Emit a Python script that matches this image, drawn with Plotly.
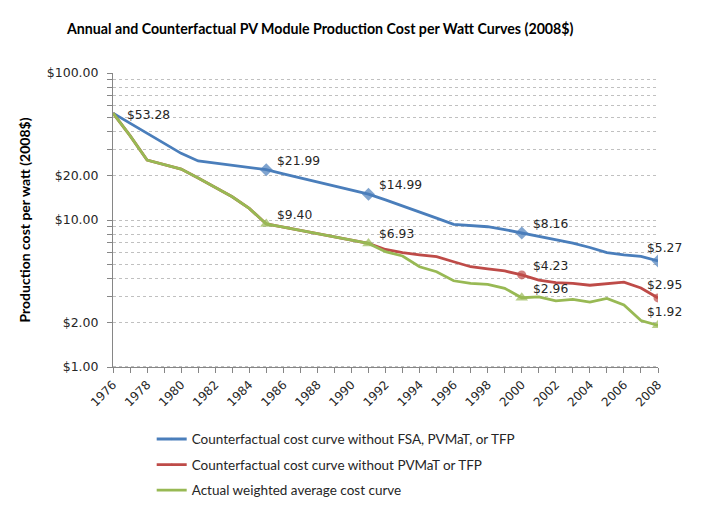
import numpy as np
import plotly.graph_objects as go

years = list(range(1976, 2009))

blue_vals = [53.28, 45.5, 38.9, 33.3, 28.4, 25.2, 24.4, 23.5, 22.7, 21.99,
             20.63, 19.35, 18.15, 17.03, 15.98, 14.99, 13.7, 12.5, 11.4, 10.3,
             9.35, 9.15, 9.0, 8.6, 8.16, 7.7, 7.3, 6.95, 6.5, 6.0,
             5.8, 5.65, 5.27]

green_vals = [53.28, 37.5, 25.6, 23.9, 22.2, 19.3, 16.7, 14.4, 12.0, 9.40,
              8.93, 8.49, 8.07, 7.67, 7.29, 6.93, 6.09, 5.69, 4.81, 4.45,
              3.86, 3.71, 3.65, 3.43, 2.96, 3.0, 2.82, 2.88, 2.76, 2.93,
              2.64, 2.07, 1.92]

red_vals = [53.28, 37.5, 25.6, 23.9, 22.2, 19.3, 16.7, 14.4, 12.0, 9.40,
            8.93, 8.49, 8.07, 7.67, 7.29, 6.93, 6.3, 6.0, 5.8, 5.63,
            5.2, 4.81, 4.65, 4.5, 4.23, 3.9, 3.75, 3.7, 3.6, 3.7,
            3.78, 3.45, 2.95]

blue_name = "Counterfactual cost curve without FSA, PVMaT, or TFP"
red_name = "Counterfactual cost curve without PVMaT or TFP"
green_name = "Actual weighted average cost curve"

blue_marked = [1985, 1991, 2000, 2008]
red_marked = [2000, 2008]
green_marked = [1985, 1991, 2000, 2008]

blue_labeled = [1976, 1985, 1991, 2000, 2008]
red_labeled = [2000, 2008]
green_labeled = [1985, 1991, 2000, 2008]

ytick_vals = [1, 2, 10, 20, 100]
ytick_text = ["$1.00", "$2.00", "$10.00", "$20.00", "$100.00"]
ygrid_minor = [3, 4, 5, 6, 7, 8, 9, 30, 40, 50, 60, 70, 80, 90]
ygrid_dark = 10

BLUE = "#4A7EBB"
RED = "#BE4B48"
GREEN = "#98B954"
FONT = "Lato"
TICKFONT = "DejaVu Sans"

fig = go.Figure()


def add_series(vals, name, color, marked, symbol, msize):
    sizes = [msize if y in marked else 0 for y in years]
    fig.add_trace(go.Scatter(
        x=years, y=vals, name=name, mode="lines+markers",
        line=dict(color=color, width=2.8),
        marker=dict(symbol=symbol, size=sizes, color=color, line=dict(width=0)),
        legendgroup=name,
    ))


add_series(blue_vals, blue_name, BLUE, blue_marked, "diamond", 10)
add_series(red_vals, red_name, RED, red_marked, "circle", 9)
add_series(green_vals, green_name, GREEN, green_marked, "triangle-up", 11)

annotations = []


def add_labels(vals, labeled):
    for y in labeled:
        v = vals[years.index(y)]
        if y == years[0]:
            xa, xs, ys = "left", 12, -2
        elif y == years[-1]:
            xa, xs, ys = "center", 6, 13
        else:
            xa, xs, ys = "left", 9, 9
        annotations.append(dict(
            x=y, y=np.log10(v), xref="x", yref="y", text="$%.2f" % v,
            showarrow=False, xanchor=xa, yanchor="middle", xshift=xs, yshift=ys,
            font=dict(family=TICKFONT, size=12.3, color="#262626"),
        ))


add_labels(blue_vals, blue_labeled)
add_labels(red_vals, red_labeled)
add_labels(green_vals, green_labeled)

W, H = 696, 514

fig.update_layout(
    width=W, height=H,
    margin=dict(l=105, r=46, t=65, b=155, autoexpand=False),
    paper_bgcolor="white", plot_bgcolor="white",
    font=dict(family=FONT, size=13, color="#262626"),
    title=dict(text="<b>Annual and Counterfactual PV Module Production Cost per Watt Curves (2008$)</b>",
               x=59 / W, xanchor="left", y=1 - 21 / H, yanchor="middle",
               font=dict(family=FONT, size=14.2, color="black")),
    showlegend=True,
    legend=dict(x=0.071, xanchor="left", y=-0.193, yanchor="top",
                font=dict(family=FONT, size=13.5, color="#262626"),
                traceorder="grouped", tracegroupgap=5, bgcolor="rgba(0,0,0,0)"),
    annotations=annotations,
    shapes=[dict(type="line", xref="paper", yref="y", x0=0, x1=1,
                 y0=np.log10(ygrid_dark), y1=np.log10(ygrid_dark),
                 line=dict(color="#7F7F7F", width=1, dash="dot"),
                 layer="below")],
)

fig.update_xaxes(
    range=[years[0], years[-1]], automargin=False,
    tickmode="array", tickvals=years,
    ticktext=[str(y) if (y - years[0]) % 2 == 0 else "" for y in years],
    tickangle=-45, ticks="outside", ticklen=5, tickcolor="#868686",
    showline=True, linecolor="#868686", linewidth=1,
    showgrid=False, zeroline=False,
    tickfont=dict(family=TICKFONT, size=12, color="#262626"),
)

fig.update_yaxes(
    type="log", range=[0, 2], automargin=False,
    tickmode="array", tickvals=ytick_vals, ticktext=ytick_text,
    ticks="outside", ticklen=5, tickcolor="#868686", ticklabelstandoff=6,
    showline=True, linecolor="#868686", linewidth=1,
    showgrid=True, gridcolor="#C0C0C0", griddash="dot", gridwidth=1,
    minor=dict(tickmode="array", tickvals=ygrid_minor, showgrid=True,
               gridcolor="#C0C0C0", griddash="dot", ticks="outside",
               ticklen=5, tickcolor="#868686"),
    zeroline=False,
    tickfont=dict(family=TICKFONT, size=12.5, color="#262626"),
    title=dict(text="<b>Production cost per watt (2008$)</b>", standoff=12,
               font=dict(family=FONT, size=14, color="black")),
)

fig.write_html("out.html")
